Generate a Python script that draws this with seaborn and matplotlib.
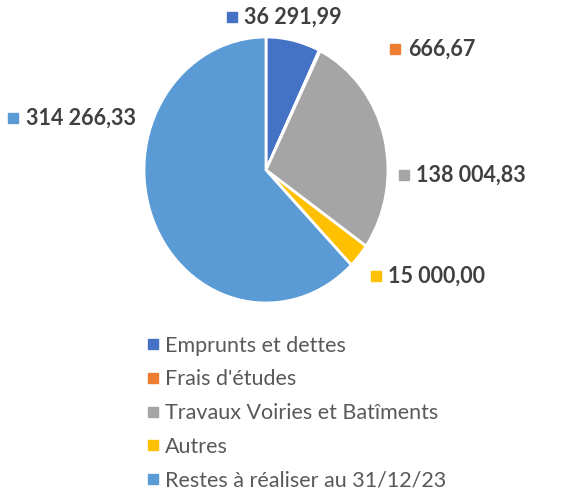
import matplotlib
matplotlib.use("Agg")
import matplotlib.pyplot as plt
import seaborn as sns
from matplotlib.lines import Line2D

categories = [
    "Emprunts et dettes",
    "Frais d'études",
    "Travaux Voiries et Batîments",
    "Autres",
    "Restes à réaliser au 31/12/23",
]
values = [36291.99, 666.67, 138004.83, 15000.00, 314266.33]
colors = ["#4472C4", "#ED7D31", "#A5A5A5", "#FFC000", "#5B9BD5"]

# label anchor (marker centre) in pie data coords, Excel-like placement
label_pos = [(-0.28, 1.15), (1.06, 0.91), (1.13, -0.04), (0.90, -0.80), (-2.07, 0.39)]


def fr_number(v):
    return f"{v:,.2f}".replace(",", " ").replace(".", ",")


sns.set_theme(style="white")
plt.rcParams["font.family"] = ["Lato", "DejaVu Sans"]

fig = plt.figure(figsize=(5.73, 4.93), dpi=100)
ax = fig.add_axes([144 / 573, 190 / 493, 244 / 573, 266 / 493])

wedges, _ = ax.pie(
    values,
    colors=sns.color_palette(colors),
    startangle=90,
    counterclock=False,
    wedgeprops=dict(edgecolor="white", linewidth=2),
)
ax.set_xlim(-1, 1)
ax.set_ylim(-1, 1)
ax.set_aspect("auto")
ax.axis("off")

for v, c, (lx, ly) in zip(values, colors, label_pos):
    ax.plot([lx], [ly], marker="s", ms=6.5, color=c, clip_on=False, lw=0)
    ax.annotate(
        fr_number(v),
        xy=(lx, ly),
        xytext=(9, 0),
        textcoords="offset points",
        ha="left",
        va="center",
        fontsize=15.5,
        fontweight="bold",
        color="#404040",
        annotation_clip=False,
    )

handles = [
    Line2D([], [], marker="s", ms=6.5, color=c, lw=0) for c in colors
]
fig.legend(
    handles,
    categories,
    loc="upper left",
    bbox_to_anchor=(137 / 573, 1 - 327 / 493),
    frameon=False,
    fontsize=15.5,
    labelcolor="#595959",
    handlelength=0.7,
    handletextpad=0.2,
    labelspacing=0.64,
    borderaxespad=0,
)

fig.savefig("out.png", dpi=100)
